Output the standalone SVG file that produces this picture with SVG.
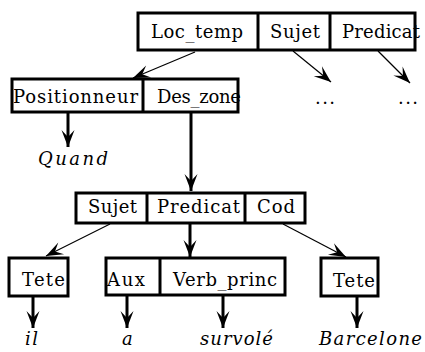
<svg xmlns="http://www.w3.org/2000/svg" width="425" height="352" viewBox="0 0 425 352">
<style>
.box{fill:none;stroke:#000;stroke-width:3}
.div{stroke:#000;stroke-width:3}
.thin{stroke:#000;stroke-width:1.2;fill:none}
.thick{stroke:#000;stroke-width:3;fill:none}
</style>
<defs>
<marker id="ah" viewBox="-18 -7 19 14" markerWidth="19" markerHeight="14" refX="0" refY="0" orient="auto" markerUnits="userSpaceOnUse">
<path d="M0,0 L-17,-6.5 L-10,0 L-17,6.5 Z" fill="#000"/>
</marker>
</defs>
<rect width="425" height="352" fill="#fff"/>
<g font-family="DejaVu Serif, serif" font-size="18" fill="#000">
<g id="top">
<text x="151" y="38" textLength="92" lengthAdjust="spacing">Loc_temp</text>
<text x="270" y="38" textLength="50" lengthAdjust="spacing">Sujet</text>
<text x="342" y="38" textLength="78" lengthAdjust="spacing">Predicat</text>
<rect class="box" x="138" y="13" width="277" height="37"/>
<line class="div" x1="258" y1="13" x2="258" y2="50"/>
<line class="div" x1="330" y1="13" x2="330" y2="50"/>
</g>
<g id="pos">
<text x="13" y="103" textLength="125" lengthAdjust="spacing">Positionneur</text>
<text x="157" y="103" textLength="84" lengthAdjust="spacing">Des_zone</text>
<rect class="box" x="12" y="79" width="226" height="33"/>
<line class="div" x1="143" y1="79" x2="143" y2="112"/>
</g>
<g id="dots1"><text x="315" y="104" textLength="20" lengthAdjust="spacing">...</text></g>
<g id="dots2"><text x="398" y="104" textLength="20" lengthAdjust="spacing">...</text></g>
<g id="quand"><text x="38" y="165" font-style="italic" textLength="70" lengthAdjust="spacing">Quand</text></g>
<g id="phrase">
<text x="88" y="213" textLength="49" lengthAdjust="spacing">Sujet</text>
<text x="157" y="213" textLength="83" lengthAdjust="spacing">Predicat</text>
<text x="257" y="213" textLength="38" lengthAdjust="spacing">Cod</text>
<rect class="box" x="76" y="193" width="229" height="30"/>
<line class="div" x1="147" y1="193" x2="147" y2="223"/>
<line class="div" x1="245" y1="193" x2="245" y2="223"/>
</g>
<g id="tete1">
<text x="22" y="286" textLength="43" lengthAdjust="spacing">Tete</text>
<rect class="box" x="9" y="258" width="59" height="38"/>
</g>
<g id="verb">
<text x="107" y="286" textLength="38" lengthAdjust="spacing">Aux</text>
<text x="173" y="286" textLength="104" lengthAdjust="spacing">Verb_princ</text>
<rect class="box" x="106" y="258" width="179" height="37"/>
<line class="div" x1="160" y1="258" x2="160" y2="295"/>
</g>
<g id="tete2">
<text x="333" y="287" textLength="42" lengthAdjust="spacing">Tete</text>
<rect class="box" x="321" y="258" width="57" height="38"/>
</g>
<g id="il"><text x="25" y="345" font-style="italic" textLength="13" lengthAdjust="spacing">il</text></g>
<g id="a"><text x="122" y="345" font-style="italic">a</text></g>
<g id="survole"><text x="200" y="345" font-style="italic" textLength="73" lengthAdjust="spacing">survolé</text></g>
<g id="barcelone"><text x="319" y="345" font-style="italic" textLength="103" lengthAdjust="spacing">Barcelone</text></g>
</g>
<g id="connectors">
<line class="thin" x1="195" y1="52" x2="133" y2="78" marker-end="url(#ah)"/>
<line class="thin" x1="293" y1="51" x2="331" y2="82" marker-end="url(#ah)"/>
<line class="thin" x1="378" y1="51" x2="410" y2="83" marker-end="url(#ah)"/>
<line class="thick" x1="68" y1="112" x2="68" y2="147" marker-end="url(#ah)"/>
<line class="thick" x1="191" y1="112" x2="191" y2="191" marker-end="url(#ah)"/>
<line class="thin" x1="110" y1="224" x2="46" y2="256" marker-end="url(#ah)"/>
<line class="thick" x1="190" y1="223" x2="190" y2="257" marker-end="url(#ah)"/>
<line class="thin" x1="283" y1="224" x2="346" y2="257" marker-end="url(#ah)"/>
<line class="thick" x1="33" y1="296" x2="33" y2="328" marker-end="url(#ah)"/>
<line class="thick" x1="127" y1="295" x2="127" y2="328" marker-end="url(#ah)"/>
<line class="thick" x1="223" y1="295" x2="223" y2="328" marker-end="url(#ah)"/>
<line class="thick" x1="357" y1="296" x2="357" y2="328" marker-end="url(#ah)"/>
</g>
</svg>
